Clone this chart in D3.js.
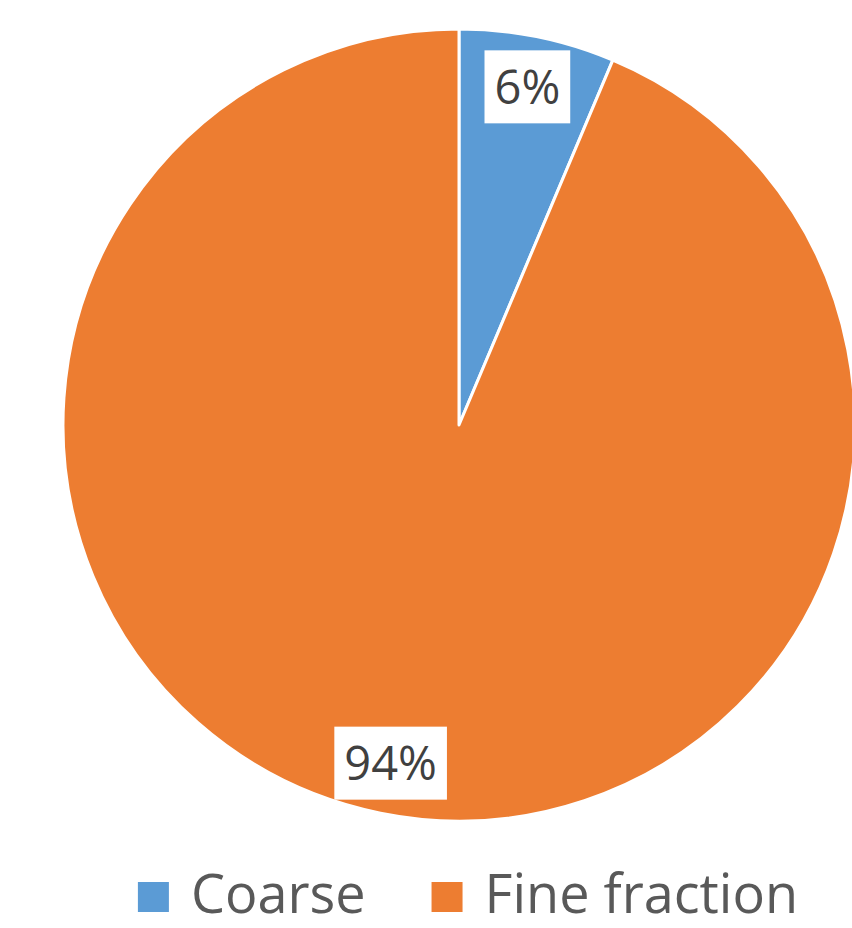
<!DOCTYPE html>
<html>
<head>
<meta charset="utf-8">
<script src="https://cdn.jsdelivr.net/npm/d3@7"></script>
<style>
  html, body { margin: 0; padding: 0; background: #fff; }
  svg { display: block; }
  text { font-family: "Open Sans", "Noto Sans", sans-serif; }
</style>
</head>
<body>
<svg id="chart" width="852" height="928"></svg>
<script>
// Share of each fraction (percent)
const categories = ["Coarse", "Fine fraction"];
const shares = [6.35, 93.65];
const colors = ["#5B9BD5", "#ED7D31"];

const width = 852, height = 928;
const cx = 459, cy = 425, radius = 396;

const svg = d3.select("#chart");

const data = categories.map((c, i) => ({ name: c, value: shares[i], color: colors[i] }));
const total = d3.sum(shares);

const pie = d3.pie().sort(null).value(d => d.value);
const arcs = pie(data);

const arc = d3.arc().innerRadius(0).outerRadius(radius);
const labelArc = d3.arc().innerRadius(345).outerRadius(345);

const g = svg.append("g").attr("transform", `translate(${cx},${cy})`);

g.selectAll("path.slice")
  .data(arcs)
  .join("path")
  .attr("class", "slice")
  .attr("d", arc)
  .attr("fill", d => d.data.color)
  .attr("stroke", "#fff")
  .attr("stroke-width", 3)
  .attr("stroke-linejoin", "round");

// Percentage labels on white boxes
const fmt = d3.format(".0%");
const labels = g.selectAll("g.label")
  .data(arcs)
  .join("g")
  .attr("class", "label")
  .attr("transform", d => `translate(${labelArc.centroid(d)})`);

labels.append("rect").attr("fill", "#fff");
labels.append("text")
  .attr("text-anchor", "middle")
  .attr("dy", "0.36em")
  .attr("font-size", 47)
  .attr("fill", "#404040")
  .text(d => fmt(d.data.value / total));

labels.each(function() {
  const t = d3.select(this).select("text").node().getBBox();
  d3.select(this).select("rect")
    .attr("x", t.x - 10)
    .attr("y", -36.5)
    .attr("width", t.width + 20)
    .attr("height", 73);
});

// Legend along the bottom
const legend = svg.append("g").attr("class", "legend");
const sw = 31, gapText = 22, gapItem = 66, baseline = 913;
let x = 0;
const items = legend.selectAll("g.item")
  .data(data)
  .join("g")
  .attr("class", "item");

items.append("rect")
  .attr("y", 882)
  .attr("width", sw)
  .attr("height", 30)
  .attr("fill", d => d.color);

items.append("text")
  .attr("x", sw + gapText)
  .attr("y", baseline)
  .attr("font-size", 54)
  .attr("fill", "#595959")
  .text(d => d.name);

items.each(function() {
  const w = sw + gapText + d3.select(this).select("text").node().getComputedTextLength();
  d3.select(this).attr("transform", `translate(${x},0)`);
  x += w + gapItem;
});
const legendWidth = x - gapItem;
legend.attr("transform", `translate(${468 - legendWidth / 2},0)`);
</script>
</body>
</html>
